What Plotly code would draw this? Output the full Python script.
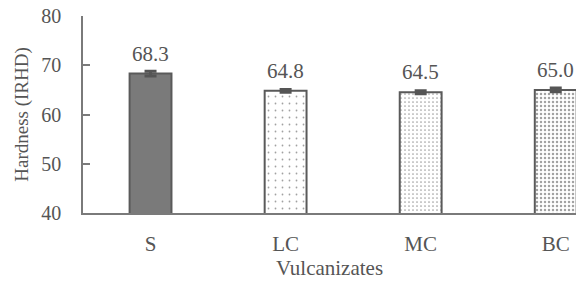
import plotly.graph_objects as go

categories = ["S", "LC", "MC", "BC"]
hardness = [68.3, 64.8, 64.5, 65.0]
errors = [0.5, 0.3, 0.3, 0.4]
labels = ["68.3", "64.8", "64.5", "65.0"]
y_ticks = [40, 50, 60, 70, 80]

fill_colors = ["#7a7a7a", "white", "white", "white"]
pattern_shapes = ["", ".", ".", "."]
pattern_sizes = [8, 7, 4, 4]
pattern_solid = [0.2, 0.05, 0.14, 0.3]

TXT = "#555555"
FONT = "Liberation Serif"
fig = go.Figure()
fig.add_trace(go.Bar(
    x=categories, y=hardness, width=0.31,
    marker=dict(
        color=fill_colors,
        line=dict(color="#5a5a5a", width=2),
        pattern=dict(shape=pattern_shapes, size=pattern_sizes,
                     solidity=pattern_solid, fgcolor="#777777",
                     fillmode="overlay"),
    ),
    error_y=dict(type="data", array=errors, color="#555555",
                 thickness=3, width=6),
    showlegend=False,
))

for c, v, t in zip(categories, hardness, labels):
    fig.add_annotation(x=c, y=v, text=t, showarrow=False, yshift=20,
                       font=dict(family=FONT, size=21, color=TXT))

fig.update_layout(
    width=576, height=283,
    margin=dict(l=83, r=0, t=16, b=70),
    plot_bgcolor="white", paper_bgcolor="white",
    font=dict(family=FONT, size=20, color=TXT),
)
fig.update_xaxes(
    range=[-0.5, 3.15], showline=True, linecolor="#7a7a7a", linewidth=1.5,
    ticks="", showgrid=False,
    tickfont=dict(size=21, color=TXT), ticklabelstandoff=11,
    title=dict(text="Vulcanizates", font=dict(size=21, color=TXT), standoff=3),
)
fig.update_yaxes(
    range=[40, 80], tickvals=y_ticks, showline=True, linecolor="#7a7a7a",
    linewidth=1.5, ticks="inside", ticklen=7, tickcolor="#7a7a7a", tickwidth=1.5,
    showgrid=False, zeroline=False, ticklabelstandoff=16,
    tickfont=dict(size=20, color=TXT),
    title=dict(text="Hardness (IRHD)", font=dict(size=19, color=TXT), standoff=8),
)
fig.write_html("out.html", config={"displayModeBar": False},
               post_script="document.body.style.margin='0';")
